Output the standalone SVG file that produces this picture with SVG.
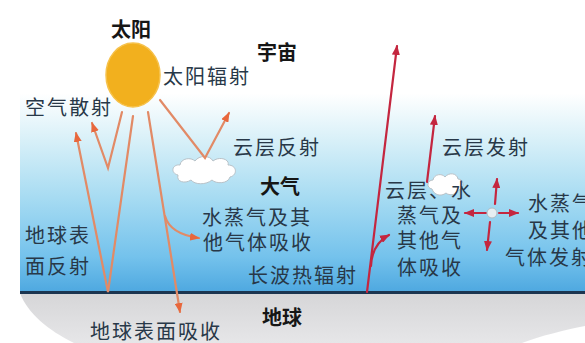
<svg xmlns="http://www.w3.org/2000/svg" width="585" height="343" viewBox="0 0 585 343">
  <style>
    .lbl { font-family: "Noto Sans CJK SC", "Noto Sans", sans-serif; font-size: 20px; fill: #283848; letter-spacing: 2px; }
    .bold { font-family: "Noto Sans CJK SC", "Noto Sans", sans-serif; font-size: 20px; font-weight: bold; fill: #161616; }
    .ray { fill: none; stroke: #E28A66; stroke-width: 2.2; stroke-linecap: round; }
    .lw { fill: none; stroke: #C4263F; stroke-width: 2.2; stroke-linecap: round; }
    .cloud { fill: #ffffff; stroke: #b9c2c8; stroke-width: 1; }
  </style>
  <defs>
    <linearGradient id="sky" x1="0" y1="0" x2="0" y2="292" gradientUnits="userSpaceOnUse">
      <stop offset="0" stop-color="#ffffff"/>
      <stop offset="0.32" stop-color="#ffffff"/>
      <stop offset="0.48" stop-color="#d8f0f8"/>
      <stop offset="0.68" stop-color="#a6dbf2"/>
      <stop offset="0.88" stop-color="#74c2ec"/>
      <stop offset="1" stop-color="#4ea8e0"/>
    </linearGradient>
    <linearGradient id="ground" x1="0" y1="294" x2="0" y2="343" gradientUnits="userSpaceOnUse">
      <stop offset="0" stop-color="#d6d6d8"/>
      <stop offset="1" stop-color="#e6e6e8"/>
    </linearGradient>
    <marker id="ah-o" viewBox="0 0 10 8" refX="9" refY="4" markerWidth="10" markerHeight="8" markerUnits="userSpaceOnUse" orient="auto">
      <path d="M0,0 L10,4 L0,8 z" fill="#E8673C"/>
    </marker>
    <marker id="ah-r" viewBox="0 0 10 8" refX="9" refY="4" markerWidth="10" markerHeight="8" markerUnits="userSpaceOnUse" orient="auto">
      <path d="M0,0 L10,4 L0,8 z" fill="#C4263F"/>
    </marker>
  </defs>

  <!-- background: sky, ground, surface line -->
  <rect x="0" y="0" width="585" height="343" fill="#ffffff"/>
  <rect x="20" y="0" width="565" height="293" fill="url(#sky)"/>
  <path d="M20,293 L585,293 L585,326 C565,330 540,336 522,343 L74,343 C48,330 28,314 20,293 Z" fill="url(#ground)"/>
  <line x1="20" y1="292.5" x2="585" y2="292.5" stroke="#1b3550" stroke-width="3"/>

  <!-- sun -->
  <g id="sun">
    <ellipse cx="133" cy="75" rx="27" ry="32" fill="#F2B01E" stroke="#f6c24c" stroke-width="1.5"/>
    <text class="bold" x="111" y="37">太阳</text>
  </g>

  <!-- clouds -->
  <g id="cloud-low">
    <path class="cloud" d="M178,175 C170,173 172,164 180,165 C181,158 191,157 195,161 C199,155 210,155 213,161 C219,156 230,159 228,165 C237,165 238,175 230,177 C228,184 216,184 212,180 C206,185 195,185 191,180 C185,184 176,182 178,175 Z"/>
  </g>
  <g id="cloud-high">
    <path class="cloud" d="M432,189 C426,188 427,180 433,180 C434,174 442,173 445,177 C449,172 457,173 458,179 C464,179 465,188 459,190 C457,195 449,196 446,193 C441,197 434,195 432,189 Z"/>
  </g>

  <!-- energy flows -->
  <g id="connectors">
    <!-- scattering by air -->
    <polyline class="ray" points="122,112 108,168 92,123" marker-end="url(#ah-o)"/>
    <!-- reflection by the surface -->
    <polyline class="ray" points="133,116 108,292 76,133" marker-end="url(#ah-o)"/>
    <!-- absorbed at the surface -->
    <line class="ray" x1="148" y1="112" x2="180" y2="312" marker-end="url(#ah-o)"/>
    <!-- absorbed by water vapour and gases -->
    <path class="ray" d="M165,216 Q170,234 199,238" marker-end="url(#ah-o)"/>
    <!-- reflection by clouds -->
    <polyline class="ray" points="160,100 205,158 229,113" marker-end="url(#ah-o)"/>

    <!-- long-wave radiation to space -->
    <line class="lw" x1="367" y1="292" x2="397" y2="46" marker-end="url(#ah-r)"/>
    <path class="lw" d="M371,266 Q372,244 389,235" marker-end="url(#ah-r)"/>
    <!-- cloud emission -->
    <line class="lw" x1="427" y1="182" x2="435" y2="116" marker-end="url(#ah-r)"/>
    <!-- emission from water vapour and gases -->
    <line class="lw" x1="495" y1="204" x2="497" y2="179" marker-end="url(#ah-r)"/>
    <line class="lw" x1="486" y1="213" x2="465" y2="213" marker-end="url(#ah-r)"/>
    <line class="lw" x1="499" y1="213" x2="518" y2="213" marker-end="url(#ah-r)"/>
    <line class="lw" x1="490" y1="222" x2="487" y2="250" marker-end="url(#ah-r)"/>
  </g>

  <g id="emitter">
    <circle cx="492" cy="213" r="5" fill="#e6eef2" stroke="#b0bcc4" stroke-width="1"/>
  </g>

  <!-- labels -->
  <g id="space"><text class="bold" x="257" y="60">宇宙</text></g>
  <g id="solar"><text class="lbl" x="163" y="84">太阳辐射</text></g>
  <g id="scatter"><text class="lbl" x="25" y="115">空气散射</text></g>
  <g id="cloud-reflect"><text class="lbl" x="233" y="155">云层反射</text></g>
  <g id="atmosphere"><text class="bold" x="260" y="194">大气</text></g>
  <g id="gas-absorb">
    <text class="lbl" x="202" y="225">水蒸气及其</text>
    <text class="lbl" x="203" y="250">他气体吸收</text>
  </g>
  <g id="longwave"><text class="lbl" x="248" y="283">长波热辐射</text></g>
  <g id="surface-reflect">
    <text class="lbl" x="25" y="243">地球表</text>
    <text class="lbl" x="25" y="274">面反射</text>
  </g>
  <g id="surface-absorb"><text class="lbl" x="90" y="339">地球表面吸收</text></g>
  <g id="earth"><text class="bold" x="262" y="325">地球</text></g>
  <g id="cloud-emit"><text class="lbl" x="442" y="155">云层发射</text></g>
  <g id="cloud-absorb">
    <text class="lbl" x="385" y="198">云层、水</text>
    <text class="lbl" x="397" y="223">蒸气及</text>
    <text class="lbl" x="397" y="248">其他气</text>
    <text class="lbl" x="397" y="275">体吸收</text>
  </g>
  <g id="gas-emit">
    <text class="lbl" x="528" y="211">水蒸气</text>
    <text class="lbl" x="528" y="238">及其他</text>
    <text class="lbl" x="505" y="265">气体发射</text>
  </g>
</svg>
